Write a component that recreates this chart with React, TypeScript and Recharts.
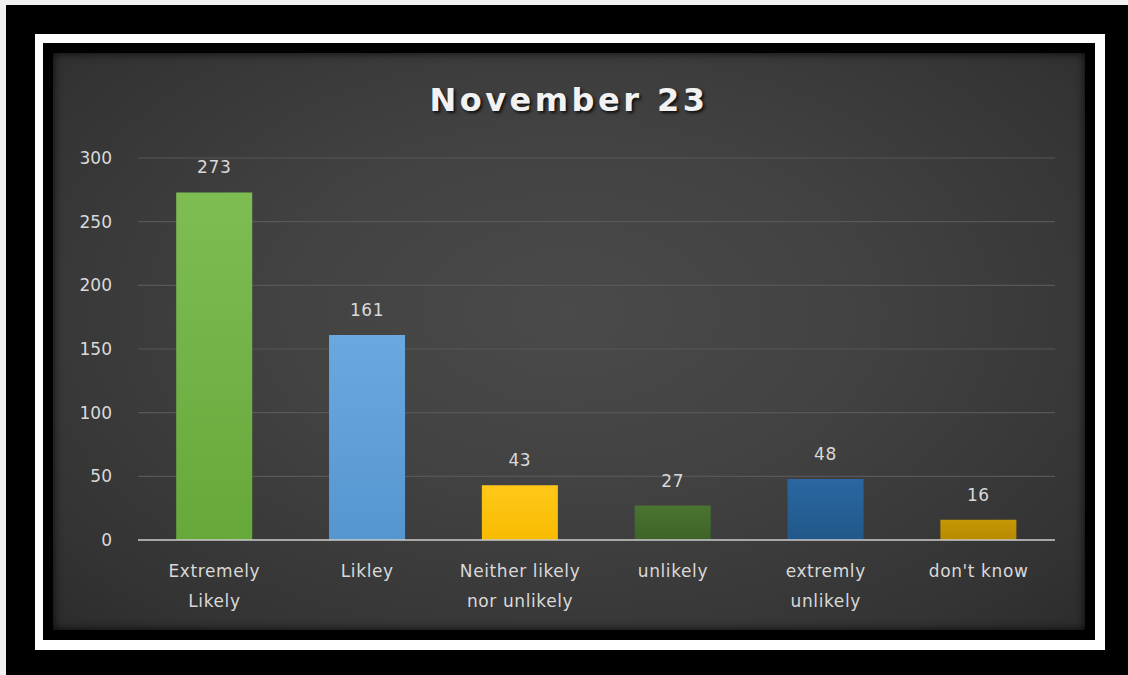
import React from "react";
import { BarChart, Bar, XAxis, YAxis, CartesianGrid, Cell, LabelList } from "recharts";

const categories = ["Extremely Likely", "Likley", "Neither likely nor unlikely", "unlikely", "extremly unlikely", "don't know"];
const tickLines = [["Extremely", "Likely"], ["Likley"], ["Neither likely", "nor unlikely"], ["unlikely"], ["extremly", "unlikely"], ["don't know"]];
const values = [273, 161, 43, 27, 48, 16];
const yTicks = [0, 50, 100, 150, 200, 250, 300];
const barTop = ["#7dbd52", "#6aa8df", "#ffc81a", "#4a7430", "#2a67a0", "#c69806"];
const barBottom = ["#67a83b", "#5696d0", "#f7bb00", "#3f6328", "#21588a", "#b78a00"];
const title = "November 23";

const data = categories.map((c, i) => ({ name: c, value: values[i] }));

const FONT = "'DejaVu Sans', sans-serif";
const TXT = "#d9d9d9";

const XTick = (props: any) => {
  const { x, y, payload } = props;
  const lines = tickLines[payload.index] || [payload.value];
  return (
    <text x={x} y={y} textAnchor="middle" fill={TXT} fontSize={17} fontFamily={FONT} style={{ letterSpacing: "0.6px" }}>
      {lines.map((l: string, i: number) => (
        <tspan key={i} x={x} y={y + 37 + i * 30}>{l}</tspan>
      ))}
    </text>
  );
};

const TopLabel = (props: any) => {
  const { x, y, width, value } = props;
  return (
    <text x={x + width / 2} y={y - 19} textAnchor="middle" fill={TXT} fontSize={17} fontFamily={FONT} style={{ letterSpacing: "0.6px" }}>
      {value}
    </text>
  );
};

export default function App() {
  return (
    <div style={{ position: "absolute", left: 0, top: 0, width: 1128, height: 675, background: "#f0f0f0", overflow: "hidden" }}>
      <div style={{ position: "absolute", left: 6, top: 5, width: 1122, height: 670, background: "#000" }} />
      <div style={{ position: "absolute", left: 35, top: 34, width: 1070, height: 616, background: "#fff" }} />
      <div style={{ position: "absolute", left: 43, top: 43, width: 1052, height: 597, background: "#000" }} />
      <div
        style={{
          position: "absolute",
          left: 53,
          top: 53,
          width: 1032,
          height: 577,
          background: "radial-gradient(ellipse at 50% 45%, #4a4a4a 0%, #424242 40%, #333333 85%, #2c2c2c 100%)",
          boxShadow: "inset 0 0 10px rgba(0,0,0,0.85)",
        }}
      />
      <div
        style={{
          position: "absolute",
          left: 53,
          top: 80,
          width: 1032,
          textAlign: "center",
          fontFamily: FONT,
          fontWeight: "bold",
          fontSize: 32,
          letterSpacing: "3.5px",
          color: "#f2f2f2",
          lineHeight: "40px",
          textShadow: "2px 2px 3px rgba(0,0,0,0.75)",
        }}
      >
        {title}
      </div>
      <div style={{ position: "absolute", left: 53, top: 53 }}>
        <BarChart width={1032} height={577} data={data} margin={{ top: 105, right: 30, left: 0, bottom: 0 }} barCategoryGap="25%">
          <defs>
            {barTop.map((c, i) => (
              <linearGradient key={i} id={`bg${i}`} x1="0" y1="0" x2="0" y2="1">
                <stop offset="0%" stopColor={c} />
                <stop offset="100%" stopColor={barBottom[i]} />
              </linearGradient>
            ))}
          </defs>
          <CartesianGrid vertical={false} stroke="#575757" strokeWidth={1.2} />
          <XAxis
            dataKey="name"
            axisLine={{ stroke: "#c8c8c8", strokeWidth: 1.5 }}
            tickLine={false}
            tickSize={0}
            tickMargin={0}
            height={90}
            tick={<XTick />}
            interval={0}
          />
          <YAxis
            domain={[0, 300]}
            ticks={yTicks}
            width={85}
            axisLine={false}
            tickLine={false}
            tickSize={0}
            tickMargin={26}
            tick={{ fill: TXT, fontSize: 17, fontFamily: FONT }}
          />
          <Bar dataKey="value" isAnimationActive={false}>
            {data.map((d, i) => (
              <Cell key={i} fill={`url(#bg${i})`} />
            ))}
            <LabelList dataKey="value" content={<TopLabel />} />
          </Bar>
        </BarChart>
      </div>
    </div>
  );
}
